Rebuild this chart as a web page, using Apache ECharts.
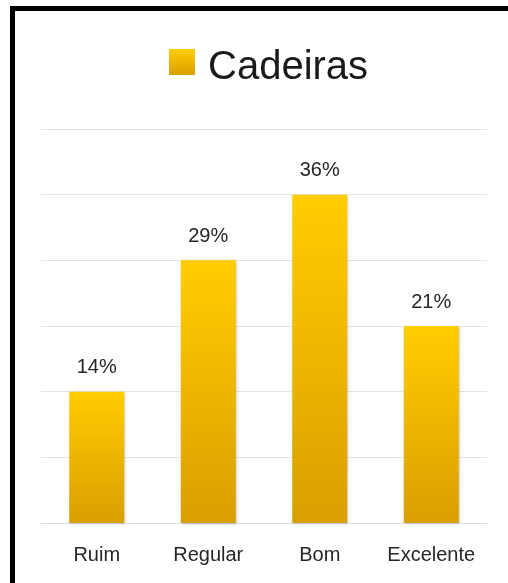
<!DOCTYPE html>
<html>
<head>
<meta charset="utf-8">
<script src="https://cdn.jsdelivr.net/npm/echarts@6/dist/echarts.min.js"></script>
<style>
  html, body { margin: 0; padding: 0; background: #ffffff; }
  #chart { width: 508px; height: 583px; }
</style>
</head>
<body>
<div id="chart"></div>
<script>
// Survey answers for "Cadeiras": share of responses per rating
const categories = ['Ruim', 'Regular', 'Bom', 'Excelente'];
const seriesName = 'Cadeiras';
const shares = [14.29, 28.57, 35.71, 21.43]; // percent
// Value axis: steps of one response out of 14
const axisMax = 42.857;
const axisStep = 7.142857;

const chart = echarts.init(document.getElementById('chart'), null, { renderer: 'canvas' });

const barGradient = new echarts.graphic.LinearGradient(0, 0, 0, 1, [
  { offset: 0, color: '#FFCD00' },
  { offset: 1, color: '#D99F00' }
]);

chart.setOption({
  backgroundColor: '#ffffff',
  animation: false,
  graphic: [{
    type: 'rect',
    shape: { x: 12.5, y: 8.5, width: 520, height: 600 },
    style: { fill: 'none', stroke: '#000000', lineWidth: 5 },
    z: 100
  }],
  legend: {
    left: 169,
    top: 48,
    padding: 0,
    itemWidth: 26,
    itemHeight: 26,
    itemGap: 10,
    icon: 'rect',
    formatter: '{t|{name}}',
    textStyle: {
      fontFamily: 'Liberation Sans, Arial, sans-serif',
      fontSize: 40,
      color: '#1a1a1a',
      padding: [0, 0, 0, 8],
      rich: {
        t: {
          fontFamily: 'Liberation Sans, Arial, sans-serif',
          fontSize: 40,
          color: '#1a1a1a',
          padding: [12, 0, 0, 0]
        }
      }
    },
    data: [seriesName]
  },
  grid: { left: 41, right: 21, top: 129, bottom: 60 },
  xAxis: {
    type: 'category',
    data: categories,
    axisLine: { show: true, lineStyle: { color: '#DDE0E5', width: 1 } },
    axisTick: { show: false },
    axisLabel: {
      interval: 0,
      margin: 22,
      fontFamily: 'Liberation Sans, Arial, sans-serif',
      fontSize: 20,
      color: '#262626'
    }
  },
  yAxis: {
    type: 'value',
    min: 0,
    max: axisMax,
    interval: axisStep,
    axisLabel: { show: false },
    axisLine: { show: false },
    axisTick: { show: false },
    splitLine: { lineStyle: { color: '#E1E4E9', width: 1 } }
  },
  series: [{
    name: seriesName,
    type: 'bar',
    data: shares,
    barWidth: 55,
    itemStyle: {
      color: barGradient,
      shadowColor: 'rgba(0,0,0,0.25)',
      shadowBlur: 3,
      shadowOffsetX: 1,
      shadowOffsetY: 1
    },
    label: {
      show: true,
      position: 'top',
      distance: 14,
      formatter: p => Math.round(p.value) + '%',
      fontFamily: 'Liberation Sans, Arial, sans-serif',
      fontSize: 20,
      color: '#262626'
    }
  }]
});
</script>
</body>
</html>
